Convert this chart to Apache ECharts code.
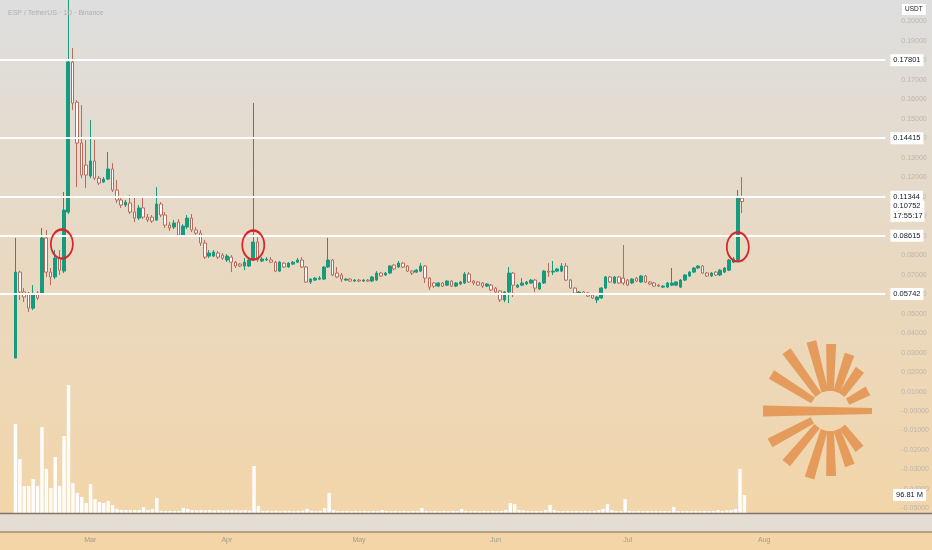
<!DOCTYPE html>
<html>
<head>
<meta charset="utf-8">
<title>ESP / TetherUS</title>
<script src="https://cdn.jsdelivr.net/npm/echarts@6/dist/echarts.min.js"></script>
<style>
  html, body { margin: 0; padding: 0; }
  #chart { width: 932px; height: 550px; }
</style>
</head>
<body>
<div id="chart"></div>
<script>
// daily candles, first one on 2025-02-12
var firstDay = '2025-02-12';
var leadDays = 3;      // empty days shown before the first candle
var totalDays = 201;   // days that fit across the chart
var monthNames = ['Jan','Feb','Mar','Apr','May','Jun','Jul','Aug','Sep','Oct','Nov','Dec'];

var opens = [
  0.0272,0.0713,0.0611,0.0605,0.0528,0.0605,0.0605,0.0888,0.0713,0.0688,
  0.0785,0.0718,0.1021,0.1791,0.1585,0.1375,0.1262,0.1206,0.1283,0.1195,
  0.1175,0.1190,0.1242,0.1134,0.1083,0.1057,0.1067,0.1021,0.0990,0.1042,
  0.0995,0.0995,0.0980,0.1062,0.1006,0.0954,0.0944,0.0970,0.0903,0.0944,
  0.0990,0.0929,0.0913,0.0862,0.0795,0.0795,0.0811,0.0800,0.0775,0.0790,
  0.0764,0.0754,0.0744,0.0744,0.0775,0.0867,0.0770,0.0775,0.0775,0.0764,
  0.0718,0.0759,0.0739,0.0754,0.0764,0.0775,0.0739,0.0662,0.0672,0.0677,
  0.0677,0.0739,0.0775,0.0708,0.0698,0.0672,0.0677,0.0667,0.0672,0.0667,
  0.0672,0.0667,0.0672,0.0708,0.0698,0.0708,0.0749,0.0739,0.0759,0.0744,
  0.0718,0.0713,0.0718,0.0744,0.0682,0.0657,0.0641,0.0657,0.0646,0.0667,
  0.0641,0.0652,0.0657,0.0703,0.0667,0.0662,0.0657,0.0641,0.0646,0.0631,
  0.0616,0.0570,0.0611,0.0708,0.0636,0.0646,0.0652,0.0657,0.0672,0.0626,
  0.0657,0.0718,0.0713,0.0718,0.0718,0.0744,0.0672,0.0631,0.0605,0.0611,
  0.0605,0.0595,0.0570,0.0580,0.0631,0.0688,0.0657,0.0688,0.0682,0.0672,
  0.0657,0.0682,0.0662,0.0693,0.0662,0.0657,0.0646,0.0636,0.0636,0.0646,
  0.0646,0.0636,0.0672,0.0693,0.0713,0.0734,0.0744,0.0708,0.0693,0.0713,
  0.0698,0.0713,0.0723,0.0764,0.0775,0.1093
];
var closes = [
  0.0713,0.0611,0.0585,0.0528,0.0600,0.0580,0.0888,0.0713,0.0688,0.0785,
  0.0723,0.1031,0.1791,0.1580,0.1375,0.1211,0.1211,0.1283,0.1195,0.1170,
  0.1190,0.1242,0.1134,0.1083,0.1057,0.1072,0.1021,0.0990,0.1042,0.0995,
  0.0980,0.0975,0.1062,0.1006,0.0954,0.0939,0.0965,0.0903,0.0949,0.0990,
  0.0929,0.0913,0.0862,0.0790,0.0811,0.0816,0.0790,0.0785,0.0795,0.0764,
  0.0744,0.0744,0.0764,0.0775,0.0867,0.0775,0.0780,0.0780,0.0764,0.0718,
  0.0764,0.0739,0.0759,0.0764,0.0775,0.0739,0.0662,0.0677,0.0682,0.0682,
  0.0739,0.0775,0.0698,0.0688,0.0677,0.0677,0.0667,0.0672,0.0667,0.0672,
  0.0667,0.0688,0.0708,0.0693,0.0708,0.0744,0.0729,0.0759,0.0739,0.0718,
  0.0708,0.0723,0.0744,0.0682,0.0636,0.0641,0.0657,0.0641,0.0667,0.0641,
  0.0657,0.0662,0.0703,0.0662,0.0657,0.0646,0.0641,0.0652,0.0621,0.0611,
  0.0570,0.0611,0.0708,0.0646,0.0646,0.0657,0.0662,0.0672,0.0631,0.0657,
  0.0718,0.0713,0.0718,0.0729,0.0744,0.0672,0.0631,0.0605,0.0611,0.0600,
  0.0590,0.0580,0.0585,0.0631,0.0688,0.0662,0.0688,0.0657,0.0657,0.0646,
  0.0677,0.0667,0.0693,0.0662,0.0652,0.0641,0.0641,0.0641,0.0657,0.0657,
  0.0662,0.0672,0.0698,0.0713,0.0734,0.0744,0.0708,0.0693,0.0708,0.0698,
  0.0723,0.0734,0.0775,0.0780,0.1093,0.10752
];
var highs = [
  0.0888,0.0720,0.0631,0.0611,0.0646,0.0615,0.0939,0.0929,0.0734,0.0826,
  0.0826,0.1124,0.2150,0.1863,0.1596,0.1570,0.1390,0.1493,0.1390,0.1206,
  0.1201,0.1329,0.1272,0.1185,0.1093,0.1083,0.1108,0.1098,0.1057,0.1098,
  0.1011,0.1006,0.1149,0.1072,0.1021,0.0970,0.0980,0.0985,0.0959,0.1006,
  0.1011,0.0944,0.0929,0.0877,0.0826,0.0826,0.0821,0.0811,0.0806,0.0800,
  0.0770,0.0759,0.0785,0.0780,0.1580,0.0893,0.0790,0.0790,0.0790,0.0770,
  0.0770,0.0764,0.0764,0.0770,0.0785,0.0790,0.0744,0.0682,0.0688,0.0693,
  0.0744,0.0888,0.0780,0.0739,0.0708,0.0682,0.0682,0.0677,0.0677,0.0677,
  0.0677,0.0693,0.0718,0.0713,0.0713,0.0749,0.0754,0.0770,0.0764,0.0749,
  0.0723,0.0729,0.0759,0.0749,0.0688,0.0662,0.0662,0.0662,0.0672,0.0672,
  0.0662,0.0667,0.0713,0.0713,0.0672,0.0667,0.0662,0.0657,0.0652,0.0636,
  0.0621,0.0616,0.0739,0.0713,0.0652,0.0682,0.0667,0.0677,0.0677,0.0662,
  0.0723,0.0759,0.0770,0.0734,0.0759,0.0759,0.0677,0.0636,0.0616,0.0616,
  0.0611,0.0600,0.0590,0.0636,0.0693,0.0693,0.0693,0.0693,0.0852,0.0677,
  0.0682,0.0688,0.0698,0.0698,0.0667,0.0662,0.0652,0.0646,0.0662,0.0734,
  0.0667,0.0677,0.0703,0.0718,0.0739,0.0749,0.0749,0.0713,0.0713,0.0718,
  0.0729,0.0739,0.0780,0.0790,0.1134,0.1201
];
var lows = [
  0.0272,0.0570,0.0559,0.0508,0.0518,0.0570,0.0595,0.0688,0.0646,0.0677,
  0.0698,0.0708,0.1011,0.1544,0.1149,0.1195,0.1144,0.1195,0.1185,0.1160,
  0.1170,0.1185,0.1124,0.1067,0.1042,0.1047,0.1011,0.0970,0.0980,0.0985,
  0.0970,0.0965,0.0975,0.0995,0.0939,0.0924,0.0934,0.0893,0.0898,0.0934,
  0.0918,0.0898,0.0847,0.0780,0.0785,0.0790,0.0780,0.0775,0.0765,0.0713,
  0.0734,0.0739,0.0723,0.0739,0.0770,0.0764,0.0764,0.0770,0.0759,0.0713,
  0.0713,0.0734,0.0734,0.0749,0.0759,0.0734,0.0657,0.0652,0.0667,0.0672,
  0.0672,0.0734,0.0693,0.0682,0.0662,0.0667,0.0662,0.0662,0.0662,0.0662,
  0.0662,0.0662,0.0667,0.0688,0.0693,0.0703,0.0723,0.0734,0.0734,0.0713,
  0.0698,0.0708,0.0713,0.0657,0.0621,0.0631,0.0636,0.0636,0.0641,0.0636,
  0.0636,0.0646,0.0652,0.0657,0.0646,0.0641,0.0631,0.0636,0.0616,0.0605,
  0.0559,0.0559,0.0554,0.0585,0.0631,0.0641,0.0646,0.0652,0.0611,0.0621,
  0.0652,0.0688,0.0698,0.0713,0.0713,0.0667,0.0626,0.0600,0.0600,0.0595,
  0.0585,0.0575,0.0554,0.0575,0.0626,0.0657,0.0652,0.0652,0.0646,0.0641,
  0.0652,0.0662,0.0657,0.0657,0.0646,0.0636,0.0636,0.0631,0.0631,0.0641,
  0.0641,0.0631,0.0667,0.0688,0.0708,0.0729,0.0703,0.0688,0.0688,0.0693,
  0.0693,0.0708,0.0718,0.0759,0.0770,0.1016
];
// volume in millions
var volumes = [
  479,290,145,145,183,145,463,237,135,301,145,414,689,
  161,108,86,54,156,75,59,54,65,43,22,
  16,16,16,16,16,32,16,22,81,
  11,11,11,11,11,27,22,
  16,14,16,14,16,14,16,14,14,16,14,14,16,14,
  253,38,
  12,12,10,12,10,12,12,10,12,12,22,12,10,12,27,108,16,
  11,10,11,10,11,10,11,10,11,10,16,
  11,10,11,10,11,10,11,10,27,
  11,10,11,10,11,10,11,10,22,
  11,10,11,10,11,10,11,10,11,16,54,48,
  16,14,11,10,11,10,16,43,
  16,11,10,11,10,11,10,11,10,11,16,22,48,
  16,11,10,75,
  11,10,11,10,11,10,11,10,11,10,32,
  11,10,11,10,11,10,11,10,11,16,11,14,16,22,
  237,96.81
];

var levels = [0.17801, 0.14415, 0.11344, 0.08615, 0.05742];
var lastPrice = 0.10752;
var lastTime = '17:55:17';
var lastVolumeLabel = '96.81 M';
// highlighted candles: [candle index, price at circle centre]
var circled = [[11, 0.0857], [54, 0.0852], [164, 0.0842]];

var font = 'Liberation Sans';
var upColor = '#179a7e';
var downBorder = '#b76b5c';

var days = [];
var start = Date.parse(firstDay + 'T00:00:00Z') - leadDays * 86400000;
for (var k = 0; k < totalDays; k++) {
  days.push(new Date(start + k * 86400000).toISOString().slice(0, 10));
}

var candleData = days.map(function (d, k) {
  var i = k - leadDays;
  if (i < 0 || i >= opens.length) return '-';
  return [opens[i], closes[i], lows[i], highs[i]];
});
var volumeData = days.map(function (d, k) {
  var i = k - leadDays;
  return (i < 0 || i >= volumes.length) ? '-' : volumes[i];
});

// logo rays: [angle in degrees, length]
var logoRays = [[28,43],[54,51],[71,60],[89,67],[105,72],[126,74],[148,69],
                [208,68],[230,68],[253,70],[271,65],[290,58],[308,48]];
var logoCx = 830, logoCy = 411;
function rayPoints(ang, len) {
  var a = ang * Math.PI / 180, dx = Math.cos(a), dy = -Math.sin(a);
  var px = -dy, py = dx, r0 = 20, w0 = 7, w1 = 10;
  return [
    [logoCx + dx * r0 + px * w0 / 2, logoCy + dy * r0 + py * w0 / 2],
    [logoCx + dx * len + px * w1 / 2, logoCy + dy * len + py * w1 / 2],
    [logoCx + dx * len - px * w1 / 2, logoCy + dy * len - py * w1 / 2],
    [logoCx + dx * r0 - px * w0 / 2, logoCy + dy * r0 - py * w0 / 2]
  ];
}
var logoColor = '#e59b5c';
var logo = logoRays.map(function (r) {
  return { type: 'polygon', shape: { points: rayPoints(r[0], r[1]) }, style: { fill: logoColor } };
});
logo.push({ type: 'polygon', shape: { points: [[763, 405.5], [872, 408], [872, 414], [763, 416.5]] }, style: { fill: logoColor } });

var boxLabel = {
  position: 'end', distance: 5,
  formatter: function (p) { return p.name; },
  backgroundColor: '#ffffff', color: '#131722', fontSize: 7.5, fontFamily: font,
  padding: [2, 3, 2, 3]
};

var myChart = echarts.init(document.getElementById('chart'));

var option = {
  animation: false,
  backgroundColor: new echarts.graphic.LinearGradient(0, 0, 0, 1, [
    { offset: 0, color: '#dedede' },
    { offset: 0.45, color: '#e8d9c3' },
    { offset: 1, color: '#f4d5a6' }
  ]),
  textStyle: { fontFamily: font },
  title: {
    text: 'ESP / TetherUS · 1D · Binance',
    left: 3, top: 5,
    textStyle: { fontSize: 7, fontWeight: 'normal', color: '#b3b0ab', fontFamily: font }
  },
  grid: [
    { left: -1, right: 44, top: 0, bottom: 22 },
    { left: -1, right: 44, bottom: 37, height: 200 }
  ],
  xAxis: [{
    gridIndex: 0, type: 'category', data: days,
    axisLine: { show: false }, axisTick: { show: false }, splitLine: { show: false },
    axisLabel: {
      interval: function (i, v) { return v.slice(8) === '01'; },
      formatter: function (v) { return monthNames[+v.slice(5, 7) - 1]; },
      margin: 9, fontSize: 7, color: '#a49a8c', fontFamily: font
    }
  }, {
    gridIndex: 1, type: 'category', data: days, show: false
  }],
  yAxis: [{
    gridIndex: 0, type: 'value', position: 'right',
    min: -0.06, max: 0.2109, interval: 0.01,
    axisLine: { show: false }, axisTick: { show: false }, splitLine: { show: false },
    axisLabel: {
      margin: 16, fontSize: 7, color: '#bdb5aa', fontFamily: font,
      formatter: function (v) {
        if (v < -0.0525 || v > 0.2001) return '';
        if (Math.abs(v) < 1e-9) return '-0.00000';
        return v.toFixed(5);
      }
    }
  }, {
    gridIndex: 1, type: 'value', min: 0, max: 1076, show: false
  }],
  series: [{
    name: 'ESP', type: 'candlestick',
    xAxisIndex: 0, yAxisIndex: 0,
    data: candleData,
    barWidth: '70%',
    itemStyle: { color: upColor, color0: '#ffffff', borderColor: upColor, borderColor0: downBorder, borderWidth: 1 },
    markLine: {
      silent: true, symbol: ['none', 'none'],
      lineStyle: { color: '#ffffff', width: 2, type: 'solid' },
      label: boxLabel,
      data: levels.map(function (v) { return { yAxis: v, name: v.toFixed(5) }; }).concat([{
        yAxis: lastPrice,
        name: lastPrice.toFixed(5) + '|' + lastTime,
        lineStyle: { color: 'rgba(0,0,0,0)', width: 0 },
        label: {
          verticalAlign: 'top', backgroundColor: 'rgba(0,0,0,0)', padding: 0,
          formatter: function (p) {
            var parts = p.name.split('|');
            return '{s| }\n{p|' + parts[0] + '}\n{p|' + parts[1] + '}';
          },
          rich: {
            s: { fontSize: 4, height: 4, lineHeight: 4 },
            p: { backgroundColor: '#ffffff', color: '#131722', fontSize: 7.5, fontFamily: font,
                 lineHeight: 10.5, height: 10.5, width: 28, padding: [0, 3, 0, 3] }
          }
        }
      }])
    },
    markPoint: {
      silent: true, symbol: 'circle', symbolSize: [22, 29],
      itemStyle: { color: 'rgba(0,0,0,0)', borderColor: '#d8262a', borderWidth: 2 },
      label: { show: false },
      data: circled.map(function (c, n) {
        return { coord: [days[c[0] + leadDays], c[1]], symbolOffset: n === 0 ? [-2, 0] : [0, 0] };
      })
    }
  }, {
    name: 'Volume', type: 'bar',
    xAxisIndex: 1, yAxisIndex: 1,
    data: volumeData,
    barWidth: '78%',
    itemStyle: { color: 'rgba(255,255,255,0.95)' },
    markLine: {
      silent: true, symbol: ['none', 'none'],
      lineStyle: { color: 'rgba(0,0,0,0)', width: 0 },
      label: boxLabel,
      data: [{ yAxis: volumes[volumes.length - 1], name: lastVolumeLabel }]
    }
  }],
  graphic: logo.concat([
    { type: 'rect', z: 100, shape: { x: 0, y: 513, width: 932, height: 19 }, style: { fill: '#e4ddd3' } },
    { type: 'line', z: 101, shape: { x1: 0, y1: 513.5, x2: 932, y2: 513.5 }, style: { stroke: '#7f7568', lineWidth: 1.5 } },
    { type: 'line', z: 101, shape: { x1: 0, y1: 532, x2: 932, y2: 532 }, style: { stroke: '#a08d72', lineWidth: 1.5 } },
    {
      type: 'text', z: 101, left: 902, top: 4,
      style: { text: 'USDT', fontSize: 6.5, fontFamily: font, fill: '#131722', backgroundColor: '#ffffff', padding: [2, 3, 2, 3] }
    }
  ])
};

myChart.setOption(option);
</script>
</body>
</html>
